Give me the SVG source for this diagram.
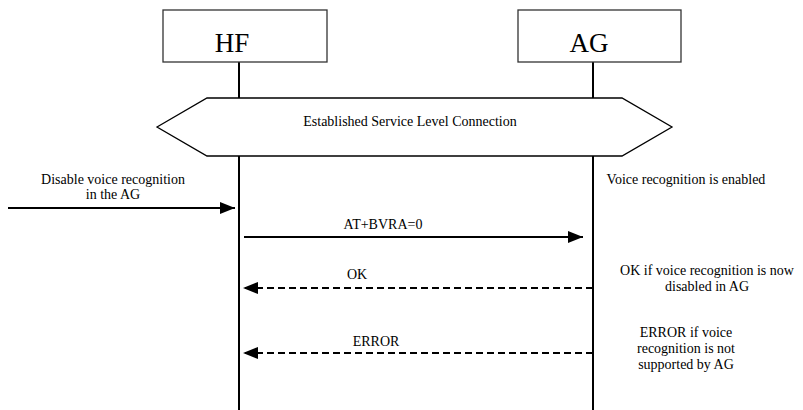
<svg xmlns="http://www.w3.org/2000/svg" width="803" height="410" viewBox="0 0 803 410">
<style>
text{font-family:'Liberation Serif','Times New Roman',serif;fill:#000}
.lbl{font-size:14px}
.big{font-size:27px}
.box{fill:#fff;stroke:#333;stroke-width:1.3}
.life{stroke:#000;stroke-width:2;fill:none}
.msg{stroke:#000;stroke-width:2;fill:none}
.dash{stroke-dasharray:7,4}
</style>
<defs>
<marker id="ah" markerWidth="16" markerHeight="12" refX="15" refY="6" orient="auto" markerUnits="userSpaceOnUse">
<path d="M0,0 L15,6 L0,12 Z" fill="#000"/>
</marker>
</defs>
<g id="lifelines">
<line class="life" x1="239" y1="62" x2="239" y2="410"/>
<line class="life" x1="593" y1="62" x2="593" y2="410"/>
</g>
<g id="HF">
<rect class="box" x="163" y="10" width="164" height="52"/>
<text class="big" x="232" y="52" text-anchor="middle">HF</text>
</g>
<g id="AG">
<rect class="box" x="518" y="10" width="163" height="52"/>
<text class="big" x="589" y="52" text-anchor="middle">AG</text>
</g>
<g id="slc">
<polygon points="157,127 207,98 622,98 672,127 622,156 207,156" fill="#fff" stroke="#000" stroke-width="1.3"/>
<text class="lbl" x="410" y="126" text-anchor="middle">Established Service Level Connection</text>
</g>
<g id="connectors">
<line class="msg" x1="8" y1="208" x2="235" y2="208" marker-end="url(#ah)"/>
<line class="msg" x1="244" y1="237" x2="583" y2="237" marker-end="url(#ah)"/>
<line class="msg dash" x1="593" y1="288" x2="243" y2="288" marker-end="url(#ah)"/>
<line class="msg dash" x1="593" y1="353" x2="243" y2="353" marker-end="url(#ah)"/>
</g>
<g id="labels">
<text class="lbl" x="113" y="184" text-anchor="middle">Disable voice recognition</text>
<text class="lbl" x="113" y="199" text-anchor="middle">in the AG</text>
<text class="lbl" x="383" y="229" text-anchor="middle">AT+BVRA=0</text>
<text class="lbl" x="357" y="279" text-anchor="middle">OK</text>
<text class="lbl" x="376" y="346" text-anchor="middle">ERROR</text>
<text class="lbl" x="686" y="184" text-anchor="middle">Voice recognition is enabled</text>
<text class="lbl" x="707" y="275" text-anchor="middle">OK if voice recognition is now</text>
<text class="lbl" x="707" y="291" text-anchor="middle">disabled in AG</text>
<text class="lbl" x="686" y="337" text-anchor="middle">ERROR if voice</text>
<text class="lbl" x="686" y="353" text-anchor="middle">recognition is not</text>
<text class="lbl" x="686" y="369" text-anchor="middle">supported by AG</text>
</g>
</svg>
